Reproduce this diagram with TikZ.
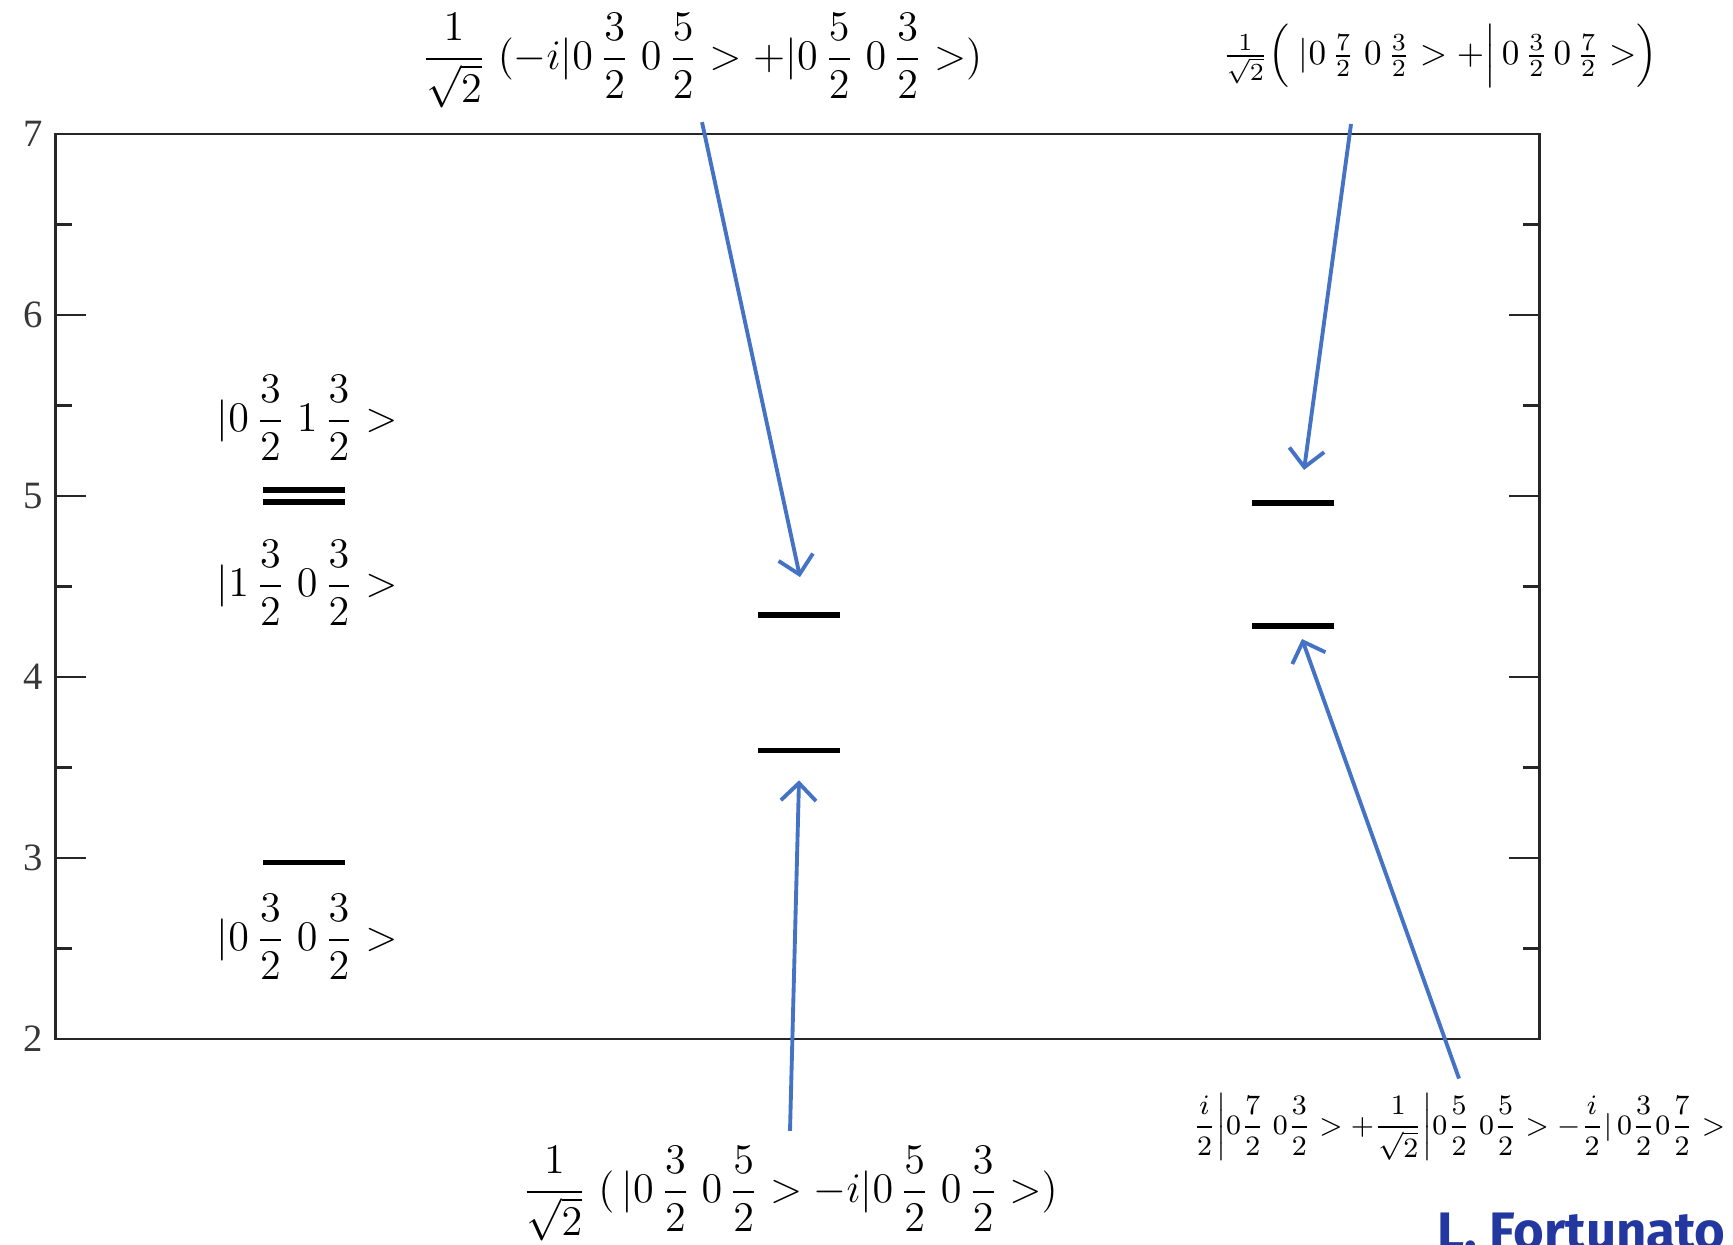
\documentclass[tikz,border=0pt]{standalone}
\usepackage{amsmath}
\usepackage{fontspec}
\usetikzlibrary{arrows.meta, positioning, calc}
\newfontfamily\tickfont{Liberation Serif}
\newfontfamily\signfont{Fira Sans}
\definecolor{arrowblue}{RGB}{68,114,196}
\definecolor{signblue}{RGB}{35,55,160}
\definecolor{tickgray}{RGB}{55,55,55}
\tikzset{
  level/.style={line width=1.6pt, color=black},
  pointer/.style={-{Straight Barb[length=5pt, width=10pt]}, line width=1.1pt, color=arrowblue},
  ket/.style={inner sep=0pt, font=\fontsize{12}{14}\selectfont},
  smallket/.style={inner sep=0pt, font=\fontsize{8.5}{10}\selectfont},
  ticklabel/.style={font=\tickfont\fontsize{11}{13}\selectfont, text=tickgray, inner sep=0pt},
  frame/.style={line width=0.8pt, color=black!85}
}

\begin{document}
\begin{tikzpicture}
  \useasboundingbox (0,0) rectangle (17.33,12.44);

  % Energy axis: y in units of the plot
  \begin{scope}[y=1.81cm, yshift=-1.57cm]
    % Frame and ticks
    \draw[frame] (0.553,2) rectangle (15.395,7);
    \foreach \e in {2,...,7} {
      \node[ticklabel] (tick\e) at (0.33,\e) {\e};
    }
    \foreach \e in {3,...,6} {
      \draw[frame] (0.553,\e) -- ++(0.31,0);
      \draw[frame] (15.395,\e) -- ++(-0.31,0);
    }
    \foreach \e in {2.5,3.5,...,6.5} {
      \draw[frame] (0.553,\e) -- ++(0.165,0);
      \draw[frame] (15.395,\e) -- ++(-0.165,0);
    }

    % Levels
    \draw[level] (2.63,5.034) -- (3.45,5.034);
    \draw[level] (2.63,4.966) -- (3.45,4.966);
    \draw[level] (2.63,2.975) -- (3.45,2.975);
    \draw[level] (7.58,4.344) -- (8.40,4.344);
    \draw[level] (7.58,3.593) -- (8.40,3.593);
    \draw[level] (12.52,4.961) -- (13.34,4.961);
    \draw[level] (12.52,4.283) -- (13.34,4.283);

    % Arrow tips and free start
    \coordinate (tipmidup) at (8.00,4.552);
    \coordinate (tipmiddown) at (7.99,3.429);
    \coordinate (tiprightup) at (13.04,5.144);
    \coordinate (tiprightdown) at (13.02,4.210);
    \coordinate (startrightup) at (13.51,7.055);
  \end{scope}

  % State labels
  \node[ket] (ketA) at (3.07,8.26) {$|0\,\dfrac{3}{2}\;1\,\dfrac{3}{2}>$};
  \node[ket] (ketB) at (3.07,6.61) {$|1\,\dfrac{3}{2}\;0\,\dfrac{3}{2}>$};
  \node[ket] (ketC) at (3.07,3.07) {$|0\,\dfrac{3}{2}\;0\,\dfrac{3}{2}>$};

  \node[ket] (mixup) at (7.02,11.83)
    {$\dfrac{1}{\sqrt{2}}\;(-i|0\,\dfrac{3}{2}\;0\,\dfrac{5}{2}>+|0\,\dfrac{5}{2}\;0\,\dfrac{3}{2}>)$};
  \node[ket] (mixdown) at (7.90,0.50)
    {$\dfrac{1}{\sqrt{2}}\;(\,|0\,\dfrac{3}{2}\;0\,\dfrac{5}{2}>-i|0\,\dfrac{5}{2}\;0\,\dfrac{3}{2}>)$};
  \node[ket, font=\fontsize{10}{12}\selectfont] (mixright) at (14.40,11.88)
    {$\tfrac{1}{\sqrt{2}}\Bigl(\;|0\,\tfrac{7}{2}\;0\,\tfrac{3}{2}>+\Bigl|\,0\,\tfrac{3}{2}\,0\,\tfrac{7}{2}>\Bigr)$};
  \node[smallket] (mixthree) at (14.59,1.17)
    {$\dfrac{i}{2}\biggl|0\dfrac{7}{2}\;0\dfrac{3}{2}>+\dfrac{1}{\sqrt{2}}\biggr|0\dfrac{5}{2}\;0\dfrac{5}{2}>-\dfrac{i}{2}|\,0\dfrac{3}{2}0\dfrac{7}{2}>$};

  % Pointers
  \draw[pointer] ([yshift=-1.3mm]mixup.south) -- (tipmidup);
  \draw[pointer] (startrightup) -- (tiprightup);
  \draw[pointer] ([yshift=1.5mm]mixdown.north) -- (tipmiddown);
  \draw[pointer] ([yshift=1.4mm]mixthree.north) -- (tiprightdown);

  % Signature
  \node[font=\signfont\bfseries\fontsize{15}{17}\selectfont, text=signblue, anchor=base west, inner sep=0pt] (sign) at (14.37,-0.05) {L. Fortunato};
\end{tikzpicture}
\end{document}
